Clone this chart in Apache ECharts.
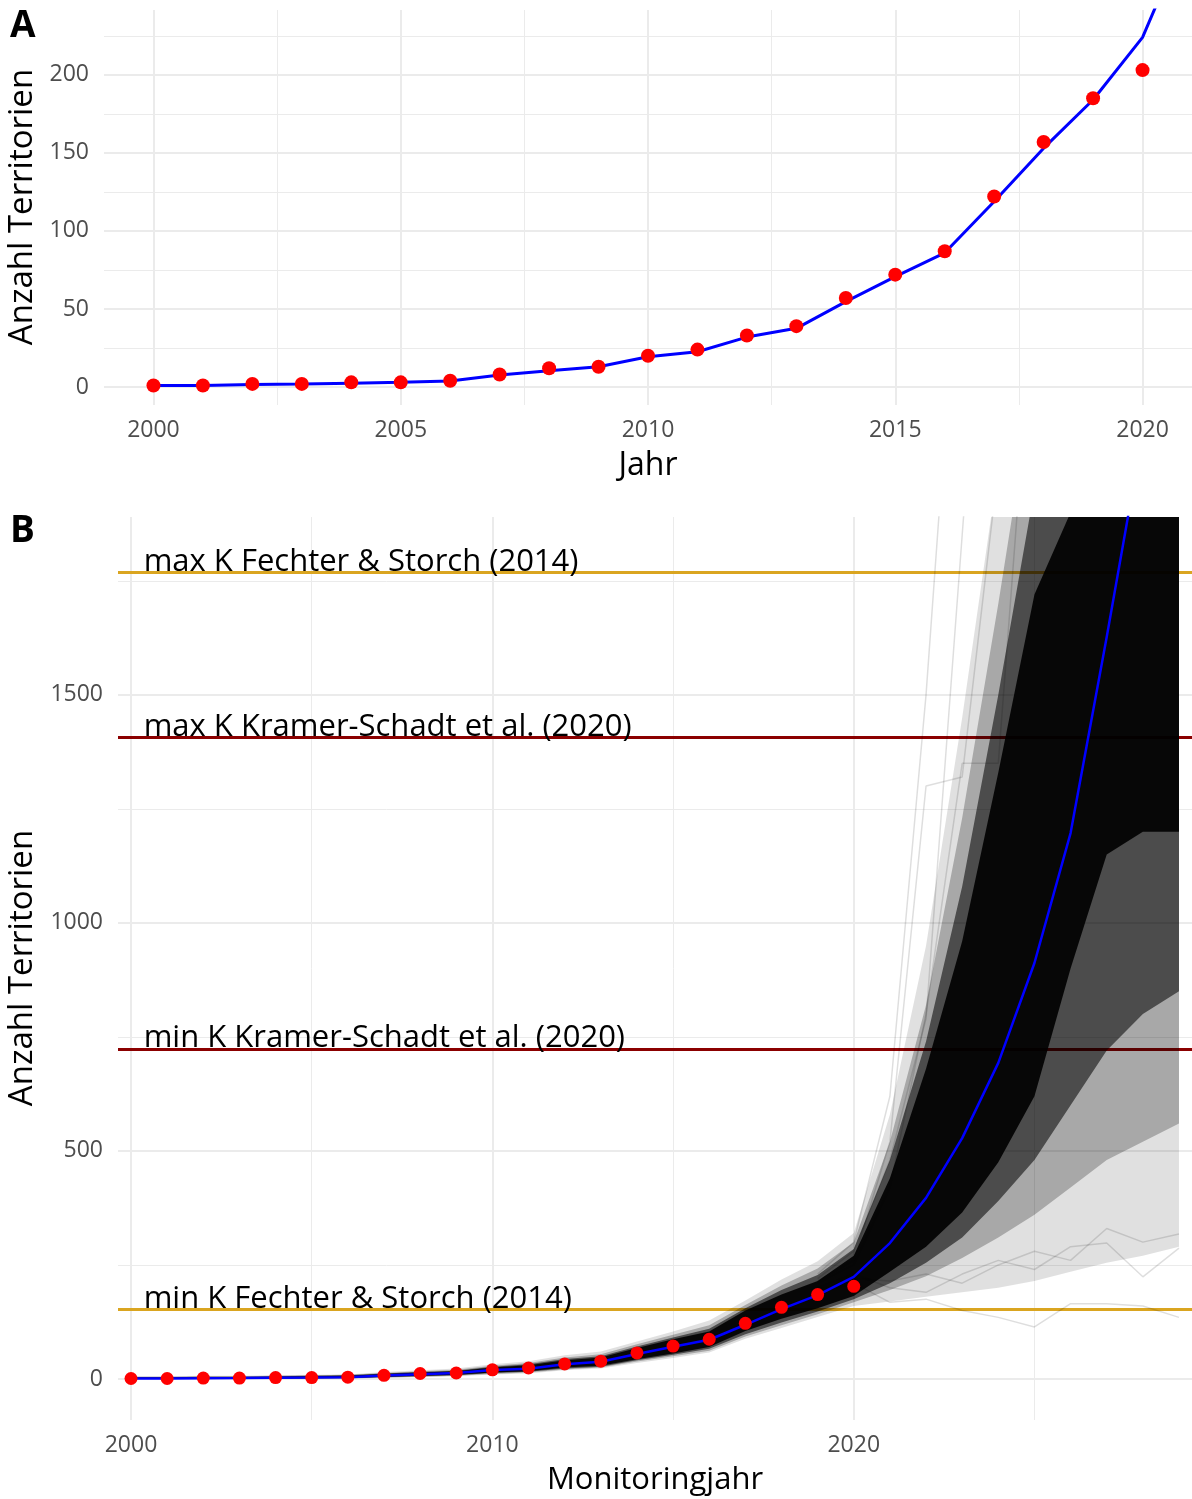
<!DOCTYPE html>
<html><head><meta charset="utf-8">
<script src="https://cdn.jsdelivr.net/npm/echarts@6/dist/echarts.min.js"></script>
<style>html,body{margin:0;padding:0;background:#fff}#c{width:1192px;height:1499px}</style>
</head><body><div id="c"></div>
<script>
// ---------- data ----------
const obsYears = [2000,2001,2002,2003,2004,2005,2006,2007,2008,2009,2010,2011,2012,2013,2014,2015,2016,2017,2018,2019,2020];
const observed = [1,1,2,2,3,3,4,8,12,13,20,24,33,39,57,72,87,122,157,185,203];
const simYears = [2000,2001,2002,2003,2004,2005,2006,2007,2008,2009,2010,2011,2012,2013,2014,2015,2016,2017,2018,2019,2020,2021,2022,2023,2024,2025,2026,2027,2028,2029];
const simMean  = [1,1,1.7,2,2.5,3,3.8,7.7,10.4,13,19.4,22.6,32,37.6,54.7,70.7,86,118.8,153,184,224,298,397,528,693,912,1197,1627,2075,2700];
// simulation envelopes (solid core, dark, middle, light fringe)
const coreLo  = [0,0,1,1,1,2,2,5,7,9,14,17,25,29,43,56,70,105,132,155,182,235,290,365,475,620,900,1150,1200,1200];
const coreHi  = [3,3,4,4,5,6,7,11,14,17,25,30,41,47,68,87,104,150,185,215,270,440,680,960,1330,1720,1900,2500,3100,3700];
const darkLo  = [0,0,0,1,1,1,2,4,6,8,13,16,23,27,41,53,66,98,124,148,175,210,255,310,390,480,600,720,800,850];
const darkHi  = [4,4,5,5,6,7,8,12,15,18,27,32,44,50,71,91,110,155,195,228,285,480,740,1080,1500,1950,2400,3000,3600,4200];
const midLo   = [0,0,0,0,1,1,1,3,5,7,11,14,21,25,38,50,62,93,118,142,168,195,225,265,310,360,420,480,520,560];
const midHi   = [5,5,6,6,7,8,9,13,17,20,29,35,47,54,76,97,118,162,205,242,300,520,820,1230,1700,2200,2800,3400,4000,4600];
const lightLo = [0,0,0,0,0,0,1,2,4,6,10,12,19,23,35,46,58,88,112,136,160,170,180,190,200,215,235,255,270,290];
const lightHi = [6,6,7,7,8,9,10,15,19,23,32,39,52,60,82,104,128,172,218,258,320,580,950,1450,2000,2600,3300,4000,4700,5400];
// a few isolated trajectories visible outside the band
const extraYears = [2019,2020,2021,2022,2023,2024,2025,2026,2027,2028,2029];
const extraA = [230,300,620,1500,2600,3500,4500,5500,6500,7500,8500];
const extraB = [220,280,480,790,1850,2900,3600,4400,5200,6000,6800];
const extraE = [215,260,520,1300,1320,2000,2900,3600,4400,5200,6000];
const extraF = [210,250,420,800,1350,1350,2400,3200,4000,4800,5600];
const extraC = [190,210,168,175,150,135,114,165,165,160,135];
const extraD = [200,230,200,190,230,260,240,290,298,224,287];
const extraG = [195,220,215,230,210,250,280,260,330,300,318];
const kValues = [1768,1406,724,153];
const kLabels = ['max K Fechter & Storch (2014)','max K Kramer-Schadt et al. (2020)','min K Kramer-Schadt et al. (2020)','min K Fechter & Storch (2014)'];
const kColors = ['#DAA520','#8B0000','#8B0000','#DAA520'];
const labelX = 2000.35;
const xTicksA = [2000,2005,2010,2015,2020];
const xMinorA = [2002.5,2007.5,2012.5,2017.5];
const yTicksA = [0,50,100,150,200];
const yMinorA = [25,75,125,175,225];
const xTicksB = [2000,2010,2020];
const xMinorB = [2005,2015,2025];
const yTicksB = [0,500,1000,1500];
const yMinorB = [250,750,1250,1750];

// ---------- helpers ----------
const FONT = 'Open Sans';
const GRID = '#EBEBEB';
const pairs = (xs, ys) => xs.map((x, i) => [x, ys[i]]);
function gridSeries(ax, xMaj, xMin, yMaj, yMin) {
  const d = [];
  xMaj.forEach(v => d.push({xAxis: v, lineStyle: {color: GRID, width: 2, type: 'solid'}}));
  xMin.forEach(v => d.push({xAxis: v, lineStyle: {color: GRID, width: 1, type: 'solid'}}));
  yMaj.forEach(v => d.push({yAxis: v, lineStyle: {color: GRID, width: 2, type: 'solid'}}));
  yMin.forEach(v => d.push({yAxis: v, lineStyle: {color: GRID, width: 1, type: 'solid'}}));
  return {type: 'line', xAxisIndex: ax, yAxisIndex: ax, data: [], z: 0, silent: true,
    markLine: {z: 0, silent: true, symbol: ['none', 'none'], label: {show: false}, animation: false, data: d}};
}
function bandSeries(lo, hi, opacity) {
  return {type: 'custom', xAxisIndex: 1, yAxisIndex: 1, z: 2, silent: true, clip: true,
    data: [[2010, 0]],
    renderItem: (params, api) => {
      const pts = [];
      for (let i = 0; i < simYears.length; i++) pts.push(api.coord([simYears[i], hi[i]]));
      for (let i = simYears.length - 1; i >= 0; i--) pts.push(api.coord([simYears[i], lo[i]]));
      return {type: 'polygon', shape: {points: pts}, style: {fill: '#000', opacity: opacity}};
    }};
}
function extraLine(ys) {
  return {type: 'line', xAxisIndex: 1, yAxisIndex: 1, data: pairs(extraYears, ys), showSymbol: false,
    lineStyle: {color: '#000', width: 1.5, opacity: 0.13}, silent: true, z: 2};
}
const axisLabelStyle = {color: '#4D4D4D', fontFamily: FONT, fontSize: 23, formatter: v => String(v)};

const chart = echarts.init(document.getElementById('c'), null, {renderer: 'canvas'});
const option = {
  animation: false,
  backgroundColor: '#fff',
  grid: [
    {left: 104, top: 10, width: 1088, height: 395},
    {left: 118, top: 517, width: 1074, height: 903}
  ],
  xAxis: [
    {gridIndex: 0, type: 'value', min: 1999, max: 2021, axisLine: {show: false}, axisTick: {show: false},
     splitLine: {show: false}, axisLabel: Object.assign({customValues: xTicksA, margin: 14}, axisLabelStyle)},
    {gridIndex: 1, type: 'value', min: 1999.64, max: 2029.36, axisLine: {show: false}, axisTick: {show: false},
     splitLine: {show: false}, axisLabel: Object.assign({customValues: xTicksB, margin: 14}, axisLabelStyle)}
  ],
  yAxis: [
    {gridIndex: 0, type: 'value', min: -11.5, max: 241.5, axisLine: {show: false}, axisTick: {show: false},
     splitLine: {show: false}, axisLabel: Object.assign({customValues: yTicksA, margin: 15}, axisLabelStyle)},
    {gridIndex: 1, type: 'value', min: -90, max: 1890, axisLine: {show: false}, axisTick: {show: false},
     splitLine: {show: false}, axisLabel: Object.assign({customValues: yTicksB, margin: 15}, axisLabelStyle)}
  ],
  graphic: [
    {type: 'text', x: 10, y: 8, style: {text: 'A', fontFamily: FONT, fontWeight: 'bold', fontSize: 37, fill: '#000'}},
    {type: 'text', x: 10, y: 513, style: {text: 'B', fontFamily: FONT, fontWeight: 'bold', fontSize: 37, fill: '#000'}},
    {type: 'text', x: 648, y: 466, style: {text: 'Jahr', fontFamily: FONT, fontSize: 32, fill: '#000', align: 'center', verticalAlign: 'middle'}},
    {type: 'text', x: 655, y: 1480, style: {text: 'Monitoringjahr', fontFamily: FONT, fontSize: 31, fill: '#000', align: 'center', verticalAlign: 'middle'}},
    {type: 'text', x: 23, y: 207, rotation: Math.PI / 2, style: {text: 'Anzahl Territorien', fontFamily: FONT, fontSize: 33, fill: '#000', align: 'center', verticalAlign: 'middle'}},
    {type: 'text', x: 23, y: 968, rotation: Math.PI / 2, style: {text: 'Anzahl Territorien', fontFamily: FONT, fontSize: 33, fill: '#000', align: 'center', verticalAlign: 'middle'}}
  ],
  series: [
    gridSeries(0, xTicksA, xMinorA, yTicksA, yMinorA),
    gridSeries(1, xTicksB, xMinorB, yTicksB, yMinorB),
    // panel A
    {type: 'line', xAxisIndex: 0, yAxisIndex: 0, data: pairs(simYears, simMean), showSymbol: false,
     lineStyle: {color: '#0000FF', width: 3}, z: 3, silent: true},
    {type: 'scatter', xAxisIndex: 0, yAxisIndex: 0, data: pairs(obsYears, observed), symbolSize: 14,
     itemStyle: {color: '#FF0000', opacity: 1}, z: 4, silent: true},
    // panel B: reference lines
    {type: 'line', xAxisIndex: 1, yAxisIndex: 1, data: [], z: 1, silent: true,
     markLine: {z: 1, silent: true, symbol: ['none', 'none'], label: {show: false}, animation: false,
       data: kValues.map((v, i) => ({yAxis: v, lineStyle: {color: kColors[i], width: 3, type: 'solid'}}))}},
    bandSeries(lightLo, lightHi, 0.12),
    bandSeries(midLo, midHi, 0.25),
    bandSeries(darkLo, darkHi, 0.55),
    bandSeries(coreLo, coreHi, 0.9),
    extraLine(extraA), extraLine(extraB), extraLine(extraE), extraLine(extraF),
    extraLine(extraC), extraLine(extraD), extraLine(extraG),
    {type: 'line', xAxisIndex: 1, yAxisIndex: 1, data: pairs(simYears, simMean), showSymbol: false,
     lineStyle: {color: '#0000FF', width: 2.5}, z: 3, silent: true},
    {type: 'scatter', xAxisIndex: 1, yAxisIndex: 1, data: pairs(obsYears, observed), symbolSize: 13,
     itemStyle: {color: '#FF0000', opacity: 1}, z: 4, silent: true},
    {type: 'custom', xAxisIndex: 1, yAxisIndex: 1, z: 5, silent: true,
     data: kValues.map(v => [labelX, v]),
     renderItem: (params, api) => {
       const p = api.coord([api.value(0), api.value(1)]);
       return {type: 'text', x: p[0], y: p[1] + 5,
         style: {text: kLabels[params.dataIndex], fontFamily: FONT, fontSize: 31, fill: '#000', align: 'left', verticalAlign: 'bottom'}};
     }}
  ]
};
chart.setOption(option);
</script>
</body></html>
